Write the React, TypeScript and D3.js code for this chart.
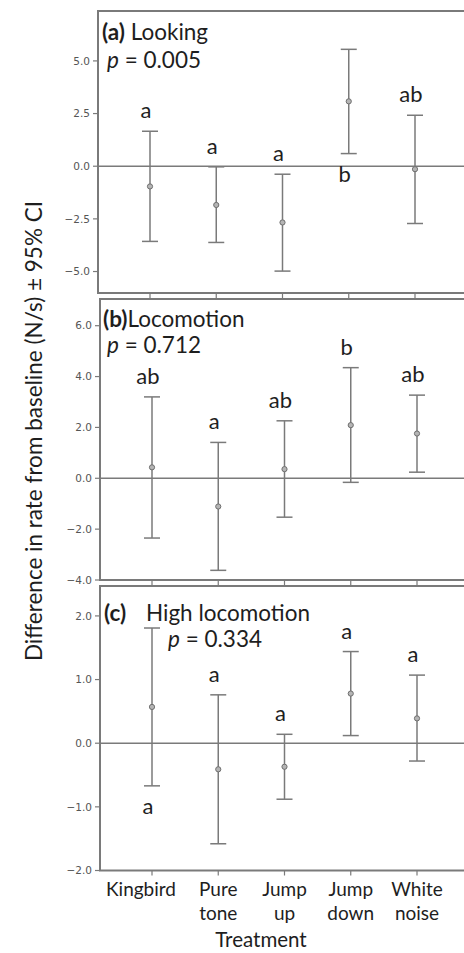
import * as d3 from "d3";

const categories = ["Kingbird", "Pure tone", "Jump up", "Jump down", "White noise"];
const categoryLines = [["Kingbird"], ["Pure", "tone"], ["Jump", "up"], ["Jump", "down"], ["White", "noise"]];

// (a) Looking
const lookingMean = [-0.96, -1.84, -2.67, 3.08, -0.14];
const lookingLower = [-3.57, -3.62, -4.98, 0.6, -2.72];
const lookingUpper = [1.66, -0.03, -0.38, 5.55, 2.42];
const lookingLetters = ["a", "a", "a", "b", "ab"];
const lookingBelow = [false, false, false, true, false];
const lookingTicks = [-5, -2.5, 0, 2.5, 5];
const lookingDomain = [-6.02, 7.37];

// (b) Locomotion
const locoMean = [0.43, -1.11, 0.36, 2.09, 1.76];
const locoLower = [-2.35, -3.62, -1.53, -0.16, 0.24];
const locoUpper = [3.2, 1.41, 2.26, 4.35, 3.27];
const locoLetters = ["ab", "a", "ab", "b", "ab"];
const locoBelow = [false, false, false, false, false];
const locoTicks = [-4, -2, 0, 2, 4, 6];
const locoDomain = [-4, 7.05];

// (c) High locomotion
const highMean = [0.57, -0.41, -0.37, 0.78, 0.39];
const highLower = [-0.67, -1.58, -0.88, 0.12, -0.28];
const highUpper = [1.81, 0.76, 0.14, 1.44, 1.07];
const highLetters = ["a", "a", "a", "a", "a"];
const highBelow = [true, false, false, false, false];
const highTicks = [-2, -1, 0, 1, 2];
const highDomain = [-2, 2.47];

const W = 464;
const H = 953;
const RIGHT = 466;
const FONT = "Lato, 'Open Sans', sans-serif";
const LINE = "#7a7a7a";
const INK = "#1e1e1e";

const panels = [
  { key: "a", top: 11, bottom: 293, left: 98, mean: lookingMean, lower: lookingLower, upper: lookingUpper,
    letters: lookingLetters, below: lookingBelow, ticks: lookingTicks, domain: lookingDomain },
  { key: "b", top: 299, bottom: 580, left: 100, mean: locoMean, lower: locoLower, upper: locoUpper,
    letters: locoLetters, below: locoBelow, ticks: locoTicks, domain: locoDomain },
  { key: "c", top: 586, bottom: 870.5, left: 100, mean: highMean, lower: highLower, upper: highUpper,
    letters: highLetters, below: highBelow, ticks: highTicks, domain: highDomain },
];

const fmt = d3.format(".1f");

function Panel({ p }: { p: typeof panels[number] }) {
  const x = d3.scalePoint<string>().domain(categories).range([p.left + 52, p.left + 317]);
  const y = d3.scaleLinear().domain(p.domain).range([p.bottom, p.top]);
  const cap = 8;
  return (
    <g>
      <rect x={p.left} y={p.top} width={RIGHT - p.left} height={p.bottom - p.top}
        fill="none" stroke={LINE} strokeWidth={2} />
      <line x1={p.left} x2={RIGHT} y1={y(0)} y2={y(0)} stroke={LINE} strokeWidth={1.5} />
      {p.ticks.map((t) => (
        <g key={t}>
          <line x1={p.left - 5} x2={p.left} y1={y(t)} y2={y(t)} stroke={LINE} strokeWidth={1.2} />
          <text x={p.left - 8} y={y(t)} dy="0.35em" textAnchor="end" fontSize={10.5}
            fontFamily="'DejaVu Sans', sans-serif" fill="#555">{fmt(t)}</text>
        </g>
      ))}
      {categories.map((c) => (
        <line key={c} x1={x(c)} x2={x(c)} y1={p.bottom} y2={p.bottom + 5} stroke={LINE} strokeWidth={1.2} />
      ))}
      {categories.map((c, i) => {
        const cx = x(c)!;
        const yu = y(p.upper[i]);
        const yl = y(p.lower[i]);
        const ly = p.below[i] ? yl + 28 : yu - 13;
        return (
          <g key={c}>
            <line x1={cx} x2={cx} y1={yu} y2={yl} stroke={LINE} strokeWidth={1.5} />
            <line x1={cx - cap} x2={cx + cap} y1={yu} y2={yu} stroke={LINE} strokeWidth={1.5} />
            <line x1={cx - cap} x2={cx + cap} y1={yl} y2={yl} stroke={LINE} strokeWidth={1.5} />
            <circle cx={cx} cy={y(p.mean[i])} r={2.6} fill="#b5b5b5" stroke="#6f6f6f" strokeWidth={1} />
            <text x={cx - 4} y={ly} textAnchor="middle" fontSize={22} fontFamily={FONT} fill={INK}>
              {p.letters[i]}
            </text>
          </g>
        );
      })}
    </g>
  );
}

export default function App() {
  const xc = d3.scalePoint<string>().domain(categories).range([152, 417]);
  return (
    <div style={{ position: "absolute", left: 0, top: 0, background: "#fff" }}>
      <svg width={W} height={H} style={{ display: "block" }}>
        <rect width={W} height={H} fill="#fff" />
        {panels.map((p) => (
          <Panel key={p.key} p={p} />
        ))}
        <g fontFamily={FONT} fill={INK} fontSize={22.5}>
          <text x={102} y={40}>
            <tspan fontWeight="bold">(a)</tspan>
            <tspan> Looking</tspan>
          </text>
          <text x={107} y={68}>
            <tspan fontStyle="italic">p</tspan> = 0.005
          </text>
          <text x={103} y={327}>
            <tspan fontWeight="bold">(b)</tspan>
            <tspan>Locomotion</tspan>
          </text>
          <text x={107} y={353}>
            <tspan fontStyle="italic">p</tspan> = 0.712
          </text>
          <text x={104} y={621}>
            <tspan fontWeight="bold">(c)</tspan>
          </text>
          <text x={146} y={621}>High locomotion</text>
          <text x={168} y={647}>
            <tspan fontStyle="italic">p</tspan> = 0.334
          </text>
        </g>
        <g fontFamily={FONT} fill={INK} fontSize={19} textAnchor="middle">
          {categories.map((c, i) => (
            <text key={c} x={xc(c)! + (i === 0 ? -11 : 0)} y={896}>
              {categoryLines[i].map((l, j) => (
                <tspan key={j} x={xc(c)! + (i === 0 ? -11 : 0)} y={896 + j * 24}>{l}</tspan>
              ))}
            </text>
          ))}
          <text x={261} y={947} fontSize={20.5}>Treatment</text>
        </g>
        <text transform="translate(42,431) rotate(-90)" textAnchor="middle" fontFamily={FONT}
          fontSize={22.5} fill={INK}>
          Difference in rate from baseline (N/s) ± 95% CI
        </text>
      </svg>
    </div>
  );
}
